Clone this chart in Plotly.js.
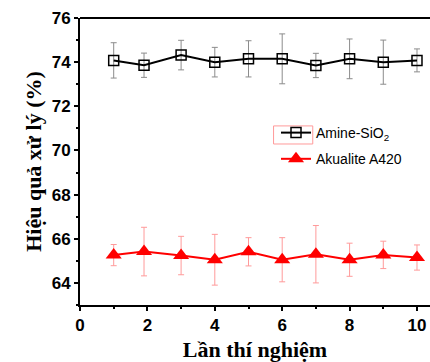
<!DOCTYPE html>
<html>
<head>
<meta charset="utf-8">
<script src="https://cdn.plot.ly/plotly-3.0.1.min.js"></script>
<style>html,body{margin:0;padding:0;background:#fff;}#chart{width:430px;height:362px;}</style>
</head>
<body>
<div id="chart"></div>
<script>
const runs = [1, 1.9, 3, 4, 5, 6, 7, 8, 9, 10];
const amineSiO2 = [74.08, 73.86, 74.32, 74.0, 74.15, 74.15, 73.85, 74.15, 74.0, 74.08];
const amineErr = [0.8, 0.55, 0.67, 0.67, 0.82, 1.13, 0.55, 0.9, 1.0, 0.52];
const akualite = [65.26, 65.42, 65.24, 65.05, 65.41, 65.05, 65.3, 65.05, 65.27, 65.15];
const akualiteErr = [0.48, 1.1, 0.87, 1.15, 0.64, 1.0, 1.3, 0.75, 0.62, 0.57];
const xTicks = [0, 2, 4, 6, 8, 10];
const yTicks = [64, 66, 68, 70, 72, 74, 76];

const traces = [
  {
    x: runs, y: amineSiO2, name: 'Amine-SiO<sub>2</sub>', type: 'scatter', mode: 'lines+markers',
    legendgroup: 'a',
    line: {color: '#000', width: 2},
    marker: {symbol: 'square-open', size: 10, color: '#000', line: {width: 1.5, color: '#000'}},
    error_y: {type: 'data', array: amineErr, visible: true, color: '#8c8c8c', thickness: 1, width: 3}
  },
  {
    x: runs, y: akualite, name: 'Akualite A420', type: 'scatter', mode: 'lines+markers',
    legendgroup: 'b',
    line: {color: '#ff0000', width: 2},
    marker: {symbol: 'triangle-up', size: 14, color: '#ff0000'},
    error_y: {type: 'data', array: akualiteErr, visible: true, color: '#ff9a9a', thickness: 1, width: 3}
  }
];

const layout = {
  width: 430, height: 362,
  margin: {l: 80, r: 0, t: 18, b: 57},
  paper_bgcolor: '#fff', plot_bgcolor: '#fff',
  showlegend: true,
  legend: {
    x: 0.56, y: 0.655, xanchor: 'left', yanchor: 'top',
    bgcolor: 'rgba(0,0,0,0)', borderwidth: 0,
    font: {family: 'Liberation Sans, Arial, sans-serif', size: 14, color: '#000'},
    tracegroupgap: 5
  },
  xaxis: {
    range: [0, 10.386], tickvals: xTicks, ticktext: xTicks.map(String),
    ticks: 'outside', ticklen: 4, tickwidth: 2, tickcolor: '#000',
    minor: {dtick: 1, ticks: 'outside', ticklen: 2, tickwidth: 2, tickcolor: '#000'},
    showline: true, linewidth: 2, linecolor: '#000', mirror: false,
    showgrid: false, zeroline: false,
    tickfont: {family: 'Liberation Sans, Arial, sans-serif', size: 17, color: '#000', weight: 'bold'},
    title: {text: 'Lần thí nghiệm', standoff: 7,
      font: {family: 'Liberation Serif, Times New Roman, serif', size: 22, color: '#000', weight: 'bold'}}
  },
  yaxis: {
    range: [63, 76], tickvals: yTicks, ticktext: yTicks.map(String),
    ticks: 'outside', ticklen: 4, tickwidth: 2, tickcolor: '#000',
    minor: {dtick: 1, ticks: 'outside', ticklen: 2, tickwidth: 2, tickcolor: '#000'},
    showline: true, linewidth: 2, linecolor: '#000',
    showgrid: false, zeroline: false,
    tickfont: {family: 'Liberation Sans, Arial, sans-serif', size: 17, color: '#000', weight: 'bold'},
    title: {text: 'Hiệu quả xử lý (%)', standoff: 4,
      font: {family: 'Liberation Serif, Times New Roman, serif', size: 22, color: '#000', weight: 'bold'}}
  },
  shapes: [
    {type: 'line', xref: 'paper', yref: 'paper', x0: 0, x1: 1, y0: 1, y1: 1, line: {color: '#000', width: 2}},
    {type: 'rect', xref: 'paper', yref: 'paper', x0: 0.553, x1: 0.665, y0: 0.561, y1: 0.624,
      line: {color: '#ff9a9a', width: 1}, fillcolor: 'rgba(0,0,0,0)'}
  ]
};

Plotly.newPlot('chart', traces, layout, {displayModeBar: false, staticPlot: true});
</script>
</body>
</html>
